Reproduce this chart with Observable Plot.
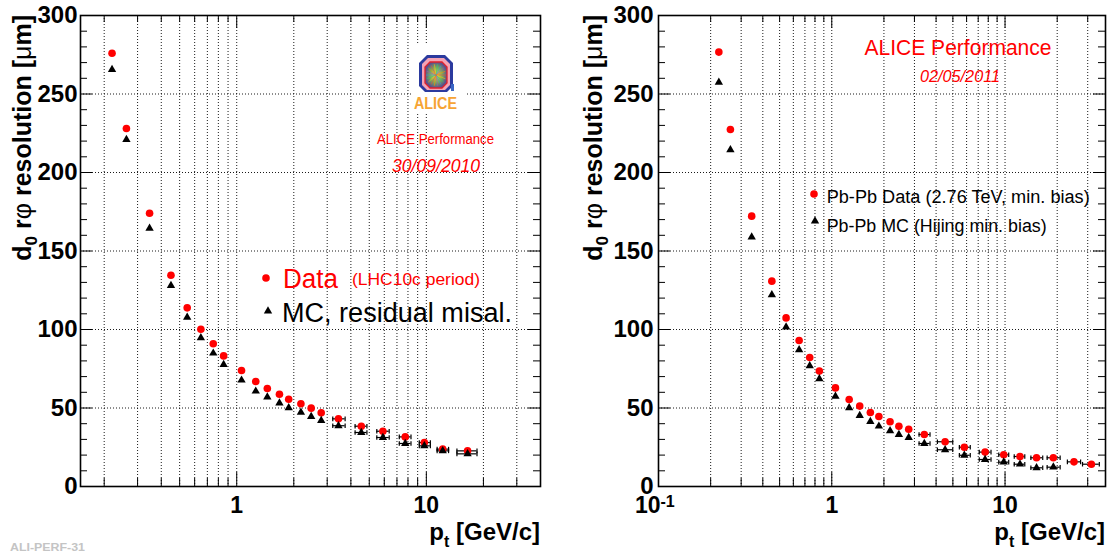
<!DOCTYPE html>
<html><head><meta charset="utf-8">
<script src="https://cdn.jsdelivr.net/npm/d3@7"></script>
<script src="https://cdn.jsdelivr.net/npm/@observablehq/plot@0.6"></script>
<style>
body{margin:0;background:#fff}
#wrap{position:relative;width:1111px;height:553px;overflow:hidden;background:#fff}
#wrap svg{position:absolute;top:0}
</style>
</head><body><div id="wrap"></div>
<script>
// ---------- data: left panel (pp, LHC10c) ----------
const ptL   = [0.22, 0.262, 0.347, 0.45, 0.548, 0.647, 0.752, 0.853, 1.06, 1.26, 1.45, 1.68, 1.88, 2.18, 2.47, 2.79, 3.44, 4.54, 5.9, 7.74, 9.76, 12.2, 16.5];
const dataL = [276, 228, 174, 134.6, 113.8, 100.2, 90.9, 83.2, 73.9, 66.9, 62.4, 58.8, 55.6, 52.7, 49.9, 46.9, 43.1, 38.4, 35.2, 31.6, 28.0, 23.8, 22.7];
const mcL   = [265.6, 221, 164.5, 128, 107.8, 94.7, 84.9, 77.7, 67.7, 60.7, 56.9, 53.1, 50.1, 47.3, 44.6, 42.0, 38.7, 34.4, 31.2, 27.4, 25.9, 22.7, 20.8];
const loL   = [null,null,null,null,null,null,null,null,null,null,null,null,null,null,null,null, 3.21, 4.21, 5.48, 7.2, 9.18, 11.4, 14.5];
const hiL   = [null,null,null,null,null,null,null,null,null,null,null,null,null,null,null,null, 3.73, 4.86, 6.37, 8.3, 10.5, 13.1, 18.5];

// ---------- data: right panel (Pb-Pb) ----------
const ptR   = [0.223, 0.260, 0.345, 0.451, 0.545, 0.648, 0.746, 0.848, 1.05, 1.26, 1.45, 1.67, 1.87, 2.17, 2.44, 2.78, 3.42, 4.51, 5.82, 7.67, 9.83, 12.2, 15.2, 19.0, 25.0, 31.5];
const dataR = [276.7, 227.4, 172.2, 130.8, 107.4, 93.0, 82.2, 73.5, 62.8, 55.4, 51.2, 47.1, 44.6, 41.2, 38.4, 36.5, 33.1, 28.5, 25.0, 21.9, 20.2, 19.1, 18.3, 18.3, 15.7, 14.2];
const mcR   = [257.5, 214.4, 158.8, 122.1, 101.5, 87.1, 76.9, 68.6, 57.5, 50.1, 45.2, 41.4, 38.4, 35.5, 33.1, 31.2, 27.4, 23.4, 19.9, 17.2, 15.5, 14.2, 11.9, 12.3, null, null];
const loR   = [null,null,null,null,null,null,null,null,null,null,null,null,null,null,null,null, 3.19, 4.07, 5.45, 7.1, 9.2, 11.3, 14.1, 17.5, 22.9, 28.0];
const hiR   = [null,null,null,null,null,null,null,null,null,null,null,null,null,null,null,null, 3.69, 4.99, 6.3, 8.3, 10.5, 13.0, 16.5, 20.8, 27.3, 35.0];

// ---------- axes ----------
const yTickLabels = [0, 50, 100, 150, 200, 250, 300];
const yGrid = [50, 100, 150, 200, 250];
const yMinor = [10,20,30,40,60,70,80,90,110,120,130,140,160,170,180,190,210,220,230,240,260,270,280,290];
const xGrid = [0.2,0.3,0.4,0.5,0.6,0.7,0.8,0.9,1,2,3,4,5,6,7,8,9,10,20,30];
const xMinor = [0.2,0.3,0.4,0.5,0.6,0.7,0.8,0.9,2,3,4,5,6,7,8,9,20,30];
const xMajor = [1, 10];
const xTickLabels = [1, 10];

const FONT = "'Liberation Sans', Arial, Helvetica, sans-serif";
const cap = {draw(ctx, size){ const h = Math.sqrt(size/Math.PI); ctx.moveTo(0,-h); ctx.lineTo(0,h); }};
const TRI_R = 3.1, DOT_R = 3.8;

function makePanel(o){
  const H = 553, mt = 15, mb = 67;
  const fw = o.width - o.ml - o.mr, fh = H - mt - mb;
  const rows = o.pt.map((p,i)=>({pt:p, data:o.data[i], mc:o.mc[i], lo:o.lo[i], hi:o.hi[i]}));
  const bars = [];
  rows.forEach(r=>{ if(r.lo!=null){ if(r.data!=null) bars.push({lo:r.lo,hi:r.hi,y:r.data}); if(r.mc!=null) bars.push({lo:r.lo,hi:r.hi,y:r.mc}); }});
  const mcRows = rows.filter(r=>r.mc!=null);
  const tf = {fontFamily: FONT, fontWeight: "bold", fill: "black"};
  const marks = [
    Plot.ruleX(xGrid, {x:d=>d, stroke:"#000", strokeDasharray:"1,2", strokeWidth:0.9}),
    Plot.ruleY(yGrid, {y:d=>d, stroke:"#000", strokeDasharray:"1,2", strokeWidth:0.9}),
    Plot.tickY(yMinor, {y:d=>d, insetRight: fw-7, stroke:"black"}),
    Plot.tickY(yMinor, {y:d=>d, insetLeft: fw-7, stroke:"black"}),
    Plot.tickY(yTickLabels, {y:d=>d, insetRight: fw-12, stroke:"black"}),
    Plot.tickY(yTickLabels, {y:d=>d, insetLeft: fw-12, stroke:"black"}),
    Plot.tickX(xMinor, {x:d=>d, insetTop: fh-8, stroke:"black"}),
    Plot.tickX(xMinor, {x:d=>d, insetBottom: fh-7, stroke:"black"}),
    Plot.tickX(xMajor, {x:d=>d, insetTop: fh-14, stroke:"black"}),
    Plot.tickX(xMajor, {x:d=>d, insetBottom: fh-13, stroke:"black"}),
    Plot.frame({stroke:"black", strokeWidth:1.6}),
    Plot.text(yTickLabels, {y:d=>d, text:d=>String(d), frameAnchor:"left", textAnchor:"end", dx:o.ylabDx, fontSize:24, ...tf}),
    Plot.text(xTickLabels, {x:d=>d, text:d=>String(d), frameAnchor:"bottom", lineAnchor:"bottom", dy:26, fontSize:23, ...tf}),
    Plot.ruleY(bars, {y:"y", x1:"lo", x2:"hi", stroke:"black", strokeWidth:1.2}),
    Plot.dot(bars, {x:"lo", y:"y", symbol:cap, r:2.3, stroke:"black", strokeWidth:1.2, fill:"none"}),
    Plot.dot(bars, {x:"hi", y:"y", symbol:cap, r:2.3, stroke:"black", strokeWidth:1.2, fill:"none"}),
    Plot.dot(rows, {x:"pt", y:"data", r:DOT_R, fill:"#ff0000", stroke:"none"}),
    Plot.dot(mcRows, {x:"pt", y:"mc", symbol:"triangle", r:TRI_R, fill:"black", stroke:"none"}),
    ...(o.extra || [])
  ];
  const svg = Plot.plot({
    width:o.width, height:H, marginLeft:o.ml, marginRight:o.mr, marginTop:mt, marginBottom:mb,
    x:{type:"log", domain:o.xDomain, axis:null},
    y:{domain:[0,300], axis:null},
    style:{fontFamily:FONT, background:"transparent", overflow:"visible", maxWidth:"none"},
    marks
  });
  svg.style.left = o.left + "px";
  return svg;
}

function addText(sel, o){
  const t = sel.append("text").attr("x",o.x).attr("y",o.y)
    .attr("font-family",FONT).attr("font-size",o.size).attr("fill",o.fill||"black")
    .attr("font-weight",o.weight||"normal").attr("font-style",o.style||"normal")
    .attr("text-anchor",o.anchor||"start").style("white-space","pre").text(o.text);
  if(o.len) t.attr("textLength",o.len).attr("lengthAdjust","spacingAndGlyphs");
  return t;
}
function yTitle(sel, x, yTop){
  const t = sel.append("text").attr("transform",`translate(${x},${yTop}) rotate(-90)`)
    .attr("text-anchor","end").attr("font-family",FONT).attr("font-size",25)
    .attr("font-weight","bold").attr("fill","black").style("white-space","pre");
  t.append("tspan").text("d");
  t.append("tspan").attr("dy",6).attr("font-size",17).text("0");
  t.append("tspan").attr("dy",-6).text(" r");
  t.append("tspan").attr("font-weight","normal").text("φ");
  t.append("tspan").text(" resolution [");
  t.append("tspan").attr("font-weight","normal").text("μ");
  t.append("tspan").text("m]");
}
function xTitle(sel, xRight, base){
  const t = sel.append("text").attr("x",xRight).attr("y",base).attr("text-anchor","end")
    .attr("font-family",FONT).attr("font-size",24).attr("font-weight","bold").attr("fill","black")
    .style("white-space","pre");
  t.append("tspan").text("p");
  t.append("tspan").attr("dy",7).attr("font-size",16).text("t");
  t.append("tspan").attr("dy",-7).text(" [GeV/c]");
}
const triPath = d3.symbol().type(d3.symbolTriangle).size(Math.PI*TRI_R*TRI_R)();

const wrap = document.getElementById("wrap");

// ---------- left panel ----------
const left = makePanel({width:555, ml:80, mr:15, left:0, xDomain:[0.15,40], ylabDx:-3,
  pt:ptL, data:dataL, mc:mcL, lo:loL, hi:hiL});
wrap.appendChild(left);
const L = d3.select(left);
yTitle(L, 31, 15);
xTitle(L, 540, 540);
// ALICE logo
const g = L.append("g");
g.append("rect").attr("x",413).attr("y",44).attr("width",53).attr("height",70).attr("fill","white");
g.append("path").attr("d","M427,55 L445,55 L453,63 L453,86 L447,92 L425,92 L419,86 L419,63 Z").attr("fill","#2b3a9e");
g.append("path").attr("d","M428,58 L444,58 L450,64 L450,85 L445,90 L427,90 L422,85 L422,64 Z").attr("fill","#f3a3b5");
const grad = L.append("defs").append("radialGradient").attr("id","alg");
grad.append("stop").attr("offset","0%").attr("stop-color","#f6d25a");
grad.append("stop").attr("offset","55%").attr("stop-color","#7fae58");
grad.append("stop").attr("offset","100%").attr("stop-color","#5a4f8c");
g.append("path").attr("d","M430,62 L442,62 L447,67 L447,83 L442,88 L430,88 L425,83 L425,67 Z")
  .attr("fill","url(#alg)").attr("stroke","#e0202a").attr("stroke-width",1.3);
const spokeCols = ["#e74c3c","#f1c40f","#2ecc71","#3498db","#9b59b6","#ff8c00"];
for(let k=0;k<18;k++){ const a=k*Math.PI*2/18;
  g.append("line").attr("x1",436).attr("y1",75).attr("x2",436+10*Math.cos(a)).attr("y2",75+11*Math.sin(a))
   .attr("stroke",spokeCols[k%6]).attr("stroke-width",0.7).attr("opacity",0.85); }
g.append("rect").attr("x",451).attr("y",84).attr("width",3).attr("height",7).attr("fill","#3a66c4");
addText(g, {x:435.5, y:109, text:"ALICE", size:17, fill:"#f6a434", weight:"bold", anchor:"middle", len:43});
addText(L, {x:435.5, y:144, text:"ALICE Performance", size:14, fill:"#ff0000", anchor:"middle", len:117});
addText(L, {x:436, y:171.5, text:"30/09/2010", size:18, fill:"#ff0000", style:"italic", anchor:"middle", len:88});
L.append("circle").attr("cx",266).attr("cy",278).attr("r",DOT_R).attr("fill","#ff0000");
addText(L, {x:283, y:288, text:"Data", size:27, fill:"#ff0000", len:55});
addText(L, {x:352, y:285, text:"(LHC10c period)", size:17, fill:"#ff0000", len:128});
L.append("path").attr("d",triPath).attr("transform","translate(268,311)").attr("fill","black");
addText(L, {x:282, y:322, text:"MC, residual misal.", size:27, fill:"black", len:230});
addText(L, {x:10, y:551, text:"ALI-PERF-31", size:10, fill:"#c4c4c4", weight:"bold", len:75});

// ---------- right panel ----------
const sup = {fontFamily:FONT, fontWeight:"bold", fill:"black"};
const right = makePanel({width:556, ml:103, mr:6, left:555, xDomain:[0.1,38], ylabDx:-5,
  pt:ptR, data:dataR, mc:mcR, lo:loR, hi:hiR,
  extra:[
    Plot.text([0.1], {x:d=>d, text:()=> "10", frameAnchor:"bottom", lineAnchor:"bottom", dy:26, dx:2, textAnchor:"end", fontSize:23, ...sup}),
    Plot.text([0.1], {x:d=>d, text:()=> "-1", frameAnchor:"bottom", lineAnchor:"bottom", dy:20, dx:2, textAnchor:"start", fontSize:16, ...sup})
  ]});
wrap.appendChild(right);
const R = d3.select(right);
yTitle(R, 47, 15);
xTitle(R, 550, 540);
addText(R, {x:403, y:55, text:"ALICE Performance", size:22, fill:"#ff0000", anchor:"middle", len:187});
addText(R, {x:405, y:81.5, text:"02/05/2011", size:17, fill:"#ff0000", style:"italic", anchor:"middle", len:80});
R.append("circle").attr("cx",259).attr("cy",194).attr("r",DOT_R).attr("fill","#ff0000");
addText(R, {x:271.7, y:203, text:"Pb-Pb Data (2.76 TeV, min. bias)", size:18, fill:"black", len:263});
R.append("path").attr("d",triPath).attr("transform","translate(260,221)").attr("fill","black");
addText(R, {x:271.7, y:232, text:"Pb-Pb MC (Hijing min. bias)", size:18, fill:"black", len:220});
</script>
</body></html>
